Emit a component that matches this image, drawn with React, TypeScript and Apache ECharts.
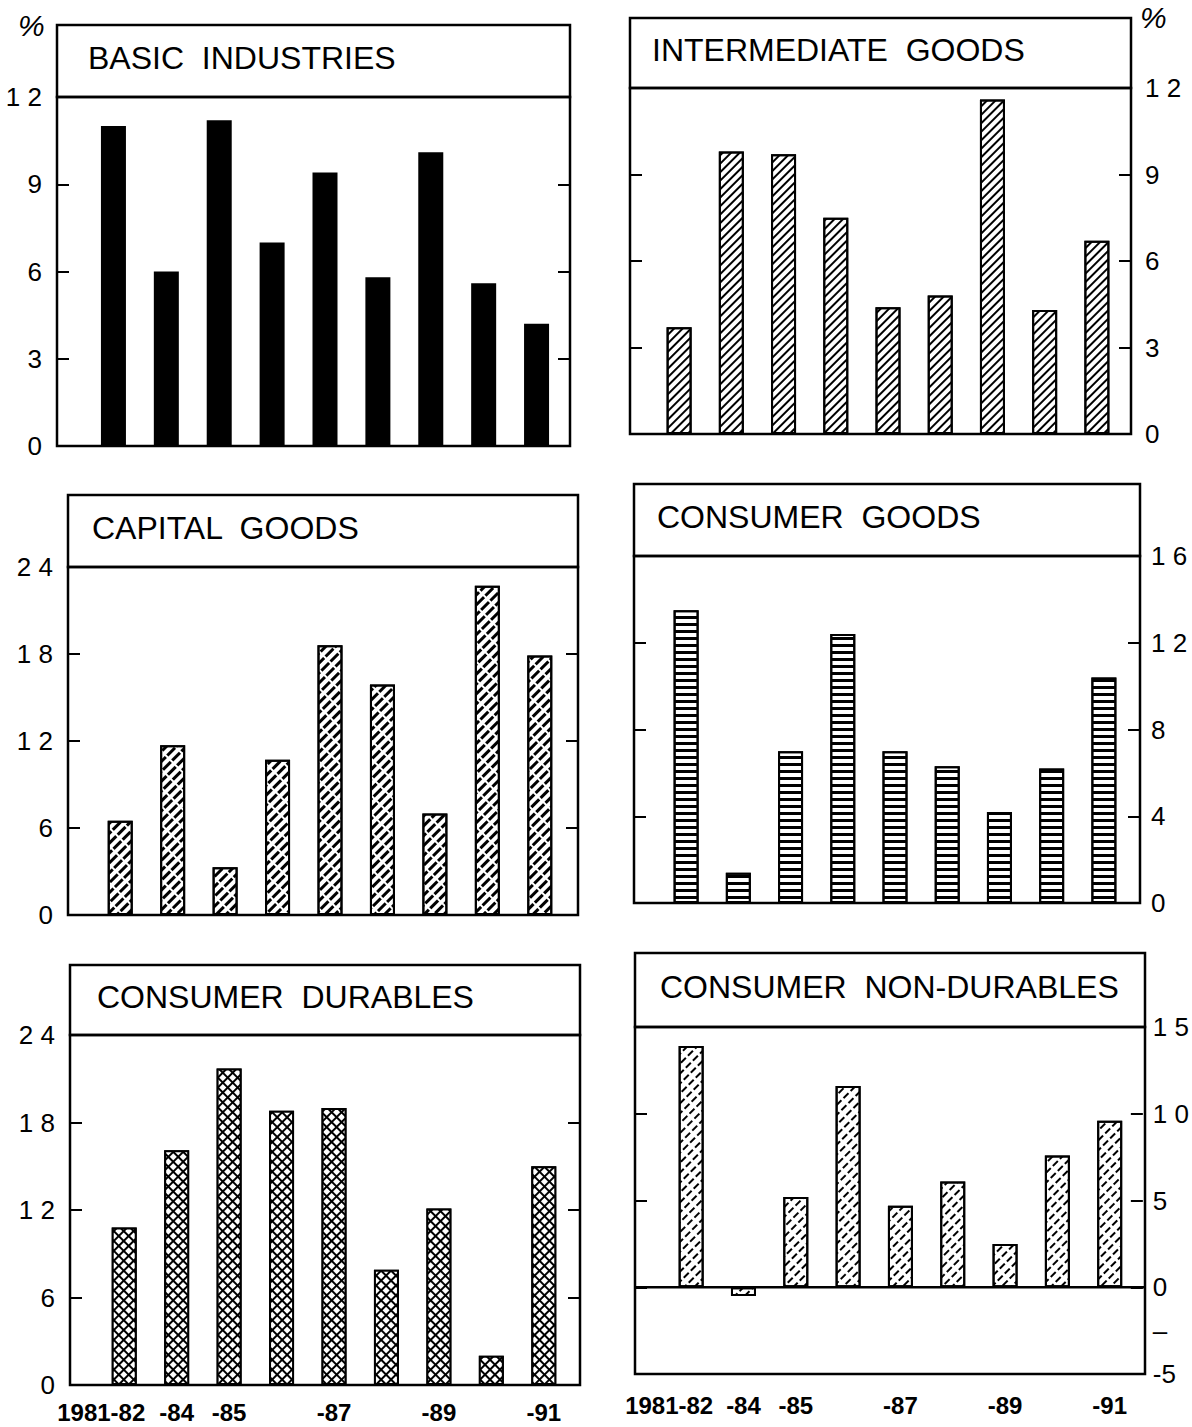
import React, { useEffect, useRef } from "react";
import * as echarts from "echarts";

// ---------- data ----------
const categories = ["1981-82", "1983-84", "1984-85", "1985-86", "1986-87", "1987-88", "1988-89", "1989-90", "1990-91"];
const xTickLabels = ["1981-82", "-84", "-85", "", "-87", "", "-89", "", "-91"];

const panelTitles = [
  "BASIC  INDUSTRIES",
  "INTERMEDIATE  GOODS",
  "CAPITAL  GOODS",
  "CONSUMER  GOODS",
  "CONSUMER  DURABLES",
  "CONSUMER  NON-DURABLES",
];

const basicIndustries = [11.0, 6.0, 11.2, 7.0, 9.4, 5.8, 10.1, 5.6, 4.2];
const intermediateGoods = [3.7, 9.8, 9.7, 7.5, 4.4, 4.8, 11.6, 4.3, 6.7];
const capitalGoods = [6.5, 11.7, 3.3, 10.7, 18.6, 15.9, 7.0, 22.7, 17.9];
const consumerGoods = [13.5, 1.4, 7.0, 12.4, 7.0, 6.3, 4.2, 6.2, 10.4];
const consumerDurables = [10.8, 16.1, 21.7, 18.8, 19.0, 7.9, 12.1, 2.0, 15.0];
const consumerNonDurables = [13.9, -0.5, 5.2, 11.6, 4.7, 6.1, 2.5, 7.6, 9.6];

const seriesValues = [basicIndustries, intermediateGoods, capitalGoods, consumerGoods, consumerDurables, consumerNonDurables];

const yMins = [0, 0, 0, 0, 0, -5];
const yMaxs = [12, 12, 24, 16, 24, 15];
const yIntervals = [3, 3, 6, 4, 6, 5];

// ---------- layout ----------
const W = 1192;
const H = 1427;

type Frame = {
  L: number; R: number; T: number; TB: number; B: number;
  gl: number; gr: number; side: "left" | "right"; titleX: number;
  xLabels: boolean; firstPad: number; labelMargin: number; xMargin: number;
};

const frames: Frame[] = [
  { L: 57, R: 570, T: 25, TB: 97, B: 446, gl: 87, gr: 563, side: "left", titleX: 88, xLabels: false, firstPad: 0, labelMargin: 15, xMargin: 12 },
  { L: 630, R: 1131, T: 18, TB: 88, B: 434, gl: 653, gr: 1123, side: "right", titleX: 652, xLabels: false, firstPad: 0, labelMargin: 14, xMargin: 12 },
  { L: 68, R: 578, T: 495, TB: 567, B: 915, gl: 94, gr: 566, side: "left", titleX: 92, xLabels: false, firstPad: 0, labelMargin: 15, xMargin: 12 },
  { L: 634, R: 1140, T: 484, TB: 556, B: 903, gl: 660, gr: 1130, side: "right", titleX: 657, xLabels: false, firstPad: 0, labelMargin: 11, xMargin: 12 },
  { L: 70, R: 580, T: 965, TB: 1035, B: 1385, gl: 98, gr: 570, side: "left", titleX: 97, xLabels: true, firstPad: 46, labelMargin: 15, xMargin: 15 },
  { L: 635, R: 1145, T: 953, TB: 1027, B: 1374, gl: 665, gr: 1138, side: "right", titleX: 660, xLabels: true, firstPad: 44, labelMargin: 10, xMargin: 19 },
];

const FONT = "'Liberation Sans', Arial, sans-serif";

const hatch = (extra: any) => ({
  symbol: "rect",
  symbolSize: 1,
  color: "#000",
  backgroundColor: "#fff",
  ...extra,
});

const fills: any[] = [
  { color: "#000" },
  { color: "#fff", decal: hatch({ dashArrayX: [1, 0], dashArrayY: [1.8, 4], rotation: -Math.PI / 4 }) },
  { color: "#fff", decal: hatch({ dashArrayX: [11, 2], dashArrayY: [2.6, 3.2], rotation: -Math.PI / 4 }) },
  { color: "#fff", decal: hatch({ dashArrayX: [1, 0], dashArrayY: [3, 4], rotation: 0 }) },
  { color: "#000", decal: { symbol: "rect", symbolSize: 1, color: "#fff", backgroundColor: "#000", dashArrayX: [5, 2], dashArrayY: [5, 2], rotation: Math.PI / 4 } },
  { color: "#fff", decal: hatch({ dashArrayX: [7, 3], dashArrayY: [1.8, 4.2], rotation: -Math.PI / 4 }) },
];

const spaced = (v: number) => {
  const s = String(v);
  return Math.abs(v) >= 10 ? s.split("").join(" ") : s;
};

let zeroAxisIndex = -1;

function buildOption() {
  const grid: any[] = [];
  const xAxis: any[] = [];
  const yAxis: any[] = [];
  const series: any[] = [];
  const graphic: any[] = [];

  frames.forEach((f, i) => {
    grid.push({ left: f.gl, top: f.TB, width: f.gr - f.gl, height: f.B - f.TB });

    xAxis.push({
      type: "category",
      gridIndex: i,
      data: categories,
      axisLine: { show: false, onZero: false },
      axisTick: { show: false },
      axisLabel: f.xLabels
        ? {
            show: true,
            interval: 0,
            margin: f.xMargin,
            color: "#000",
            fontSize: 24,
            fontWeight: "bold",
            fontFamily: FONT,
            formatter: (_v: string, idx: number) =>
              idx === 0 ? "{first|" + xTickLabels[0] + "}" : xTickLabels[idx],
            rich: {
              first: { fontSize: 24, fontWeight: "bold", fontFamily: FONT, color: "#000", padding: [0, f.firstPad, 0, 0] },
            },
          }
        : { show: false },
      splitLine: { show: false },
    });

    const common = {
      type: "value",
      gridIndex: i,
      min: yMins[i],
      max: yMaxs[i],
      interval: yIntervals[i],
      axisLine: { show: false },
      axisTick: { show: true, inside: true, length: 12, lineStyle: { color: "#000", width: 2 } },
      splitLine: { show: false },
    };
    const labelStyle = {
      show: true,
      color: "#000",
      fontSize: 26,
      fontFamily: FONT,
      margin: f.labelMargin,
      showMinLabel: true,
      showMaxLabel: true,
      formatter: (v: number) => spaced(v),
    };

    const leftIdx = yAxis.length;
    yAxis.push({
      ...common,
      position: "left",
      offset: f.gl - f.L,
      axisLabel: f.side === "left" ? labelStyle : { show: false },
    });
    yAxis.push({
      ...common,
      position: "right",
      offset: f.R - f.gr,
      axisLabel: f.side === "right" ? labelStyle : { show: false },
    });

    if (yMins[i] < 0) {
      zeroAxisIndex = leftIdx;
      // minor dash label between 0 and the minimum
      yAxis.push({
        type: "value",
        gridIndex: i,
        min: yMins[i],
        max: yMaxs[i],
        interval: yIntervals[i] / 2,
        position: "right",
        offset: f.R - f.gr,
        axisLine: { show: false },
        axisTick: { show: false },
        splitLine: { show: false },
        axisLabel: {
          show: true,
          color: "#000",
          fontSize: 26,
          fontFamily: FONT,
          margin: f.labelMargin,
          formatter: (v: number) => (v < 0 && v > yMins[i] ? "–" : ""),
        },
      });
    }

    series.push({
      type: "bar",
      name: panelTitles[i],
      xAxisIndex: i,
      yAxisIndex: leftIdx,
      data: seriesValues[i],
      barWidth: 25,
      itemStyle: {
        color: fills[i].color,
        decal: fills[i].decal,
        borderColor: "#000",
        borderWidth: 2,
      },
      emphasis: { disabled: true },
    });

    graphic.push({
      id: "title-box-" + i,
      type: "rect",
      z: 10,
      shape: { x: f.L, y: f.T, width: f.R - f.L, height: f.TB - f.T },
      style: { fill: "none", stroke: "#000", lineWidth: 2.5 },
    });
    graphic.push({
      id: "plot-box-" + i,
      type: "rect",
      z: 10,
      shape: { x: f.L, y: f.TB, width: f.R - f.L, height: f.B - f.TB },
      style: { fill: "none", stroke: "#000", lineWidth: 2.5 },
    });
    graphic.push({
      id: "title-text-" + i,
      type: "text",
      z: 10,
      x: f.titleX,
      y: (f.T + f.TB) / 2 - 3,
      style: {
        text: panelTitles[i],
        fontSize: 32,
        fontFamily: FONT,
        fill: "#000",
        verticalAlign: "middle",
        align: "left",
      },
    });
  });

  graphic.push({
    id: "pct-left",
    type: "text",
    x: 18,
    y: 10,
    style: { text: "%", fontSize: 30, fontFamily: FONT, fill: "#000", fontStyle: "italic" },
  });
  graphic.push({
    id: "pct-right",
    type: "text",
    x: 1140,
    y: 2,
    style: { text: "%", fontSize: 30, fontFamily: FONT, fill: "#000", fontStyle: "italic" },
  });

  return {
    animation: false,
    backgroundColor: "#fff",
    grid,
    xAxis,
    yAxis,
    series,
    graphic,
  };
}

export default function App() {
  const ref = useRef<HTMLDivElement>(null);
  useEffect(() => {
    if (!ref.current) return;
    const chart = echarts.init(ref.current, undefined, { renderer: "svg" });
    chart.setOption(buildOption());
    const f = frames[5];
    if (zeroAxisIndex >= 0) {
      const y0 = chart.convertToPixel({ yAxisIndex: zeroAxisIndex }, 0) as number;
      chart.setOption({
        graphic: {
          elements: [
            {
              id: "zero-line",
              type: "line",
              z: 10,
              shape: { x1: f.L, y1: y0, x2: f.R, y2: y0 },
              style: { stroke: "#000", lineWidth: 2.5 },
            },
          ],
        },
      });
    }
    return () => chart.dispose();
  }, []);
  return (
    <div
      ref={ref}
      style={{ position: "absolute", left: 0, top: 0, width: W, height: H, background: "#fff" }}
    />
  );
}
